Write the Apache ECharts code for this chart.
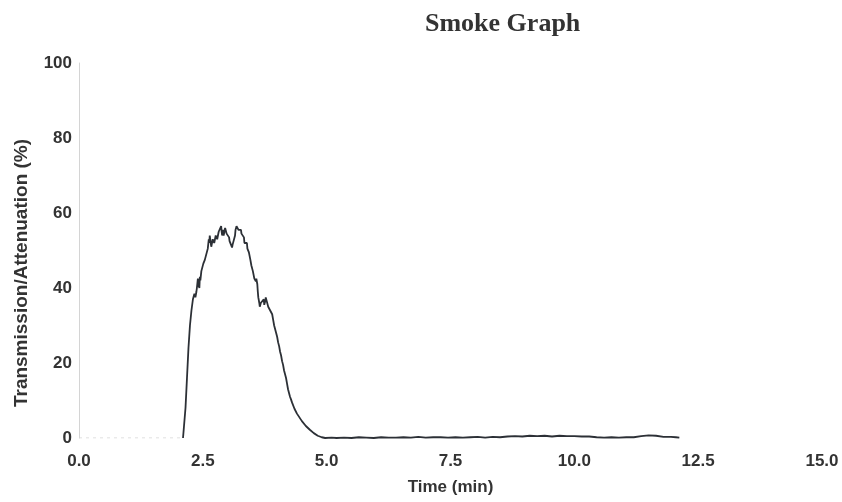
<!DOCTYPE html>
<html>
<head>
<meta charset="utf-8">
<script src="https://cdn.jsdelivr.net/npm/echarts@6/dist/echarts.min.js"></script>
<style>html,body{margin:0;padding:0;background:#fff}#c{width:842px;height:502px}</style>
</head>
<body>
<div id="c"></div>
<script>
const titleText = 'Smoke Graph';
const xName = 'Time (min)';
const yName = 'Transmission/Attenuation (%)';
const xTicks = [0, 2.5, 5, 7.5, 10, 12.5, 15];
const yTicks = [0, 20, 40, 60, 80, 100];

// faint pre-test baseline
const preTime = [0, 0.5, 1.0, 1.5, 2.0, 2.1];
const preValue = [0, 0, 0, 0, 0, 0];

// main smoke trace
const time = [2.10, 2.12, 2.15, 2.18, 2.21, 2.24, 2.27, 2.30, 2.32, 2.33, 2.35, 2.37, 2.38, 2.40, 2.41, 2.43, 2.44, 2.45, 2.47, 2.48,
  2.50, 2.51, 2.53, 2.54, 2.56, 2.57, 2.59, 2.60, 2.62, 2.63, 2.64, 2.66, 2.67, 2.69, 2.70, 2.72, 2.73, 2.75, 2.76, 2.78,
  2.79, 2.81, 2.82, 2.84, 2.85, 2.87, 2.88, 2.89, 2.91, 2.92, 2.94, 2.95, 2.97, 2.98, 3.00, 3.01, 3.03, 3.04, 3.06, 3.07,
  3.09, 3.10, 3.12, 3.13, 3.15, 3.16, 3.18, 3.19, 3.21, 3.22, 3.24, 3.25, 3.27, 3.28, 3.30, 3.31, 3.33, 3.34, 3.36, 3.37,
  3.39, 3.40, 3.42, 3.43, 3.45, 3.46, 3.48, 3.49, 3.51, 3.52, 3.54, 3.55, 3.57, 3.58, 3.60, 3.61, 3.62, 3.64, 3.65, 3.67,
  3.68, 3.70, 3.71, 3.73, 3.74, 3.76, 3.77, 3.79, 3.80, 3.82, 3.83, 3.85, 3.86, 3.88, 3.90, 3.92, 3.94, 3.96, 3.98, 4.00,
  4.02, 4.04, 4.06, 4.08, 4.10, 4.12, 4.14, 4.16, 4.18, 4.20, 4.22, 4.24, 4.26, 4.28, 4.30, 4.35, 4.40, 4.45, 4.50, 4.58,
  4.66, 4.74, 4.82, 4.90, 4.97, 5.1, 5.2, 5.35, 5.5, 5.65, 5.8, 5.95, 6.1, 6.25, 6.4, 6.55, 6.7, 6.85, 7.0, 7.15, 7.3, 7.45,
  7.6, 7.75, 7.9, 8.05, 8.2, 8.35, 8.5, 8.65, 8.8, 8.95, 9.1, 9.25, 9.4, 9.55, 9.7, 9.85, 10.0, 10.15, 10.3, 10.45, 10.6,
  10.75, 10.9, 11.05, 11.2, 11.35, 11.5, 11.65, 11.8, 11.95, 12.05, 12.12];
const value = [0, 0.5, 8, 16, 24, 30, 34, 37, 36.5, 38.5, 37.5, 39, 40, 42.5, 41, 40, 43, 42, 44.5, 45,
  44.5, 46.5, 46, 47.5, 48.5, 49, 48, 50.5, 53, 52, 54, 52, 51, 51.5, 53, 53.5, 52, 52.5, 54, 54.5,
  53, 53.5, 55, 55.5, 54.5, 56.5, 55, 54, 55.5, 54, 54.5, 56, 56, 54.5, 54, 55, 53.5, 52.5, 52, 51.5,
  50.8, 51.5, 52.5, 53, 54, 55.5, 56.5, 56, 56.5, 55.5, 55, 56, 55.5, 54.5, 54, 54.5, 53.5, 52, 52.5, 51.5,
  52, 50.5, 50, 49.5, 49, 47.5, 46, 46.5, 44.5, 44, 42.5, 43, 41.8, 42.5, 41, 39, 37.5, 36, 35, 36,
  36, 35.5, 36.5, 37, 35.5, 36.5, 37.5, 36.5, 36, 35, 35.5, 34.5, 34, 33.5, 33, 31.5, 30, 29, 28, 27,
  25.5, 24.5, 23, 22, 20.5, 19.5, 18, 17, 16, 14.5, 13, 12, 11, 10.3, 9.5, 7.8, 6.5, 5.5, 4.5, 3.2,
  2.2, 1.3, 0.6, 0.2, 0, 0.1, 0, 0.1, 0, 0.2, 0.1, 0, 0.2, 0.1, 0.1, 0.2, 0.1, 0.3, 0.1, 0.2, 0.2, 0.1,
  0.2, 0.1, 0.2, 0.3, 0.1, 0.3, 0.2, 0.4, 0.5, 0.4, 0.6, 0.5, 0.6, 0.4, 0.6, 0.5, 0.5, 0.4, 0.4, 0.2, 0.1,
  0.2, 0.1, 0.2, 0.2, 0.5, 0.7, 0.6, 0.3, 0.3, 0.2, 0.1];

const chart = echarts.init(document.getElementById('c'), null, {renderer: 'canvas'});
const labelFont = {fontFamily: 'Liberation Sans, Arial, sans-serif', fontWeight: 'bold', fontSize: 17, color: '#333'};
chart.setOption({
  backgroundColor: '#fff',
  animation: false,
  title: {
    text: titleText, left: 420, top: 6,
    textStyle: {fontFamily: 'Liberation Serif, Times New Roman, serif', fontWeight: 'bold', fontSize: 26, color: '#333'}
  },
  grid: {left: 79, right: 20, top: 63, bottom: 64, containLabel: false},
  xAxis: {
    type: 'value', min: xTicks[0], max: xTicks[xTicks.length - 1], interval: 2.5,
    name: xName, nameLocation: 'middle', nameGap: 41,
    nameTextStyle: labelFont,
    axisLine: {show: false}, axisTick: {show: false}, splitLine: {show: false},
    axisLabel: Object.assign({margin: 15, showMinLabel: true, showMaxLabel: true, formatter: v => v.toFixed(1)}, labelFont)
  },
  yAxis: {
    type: 'value', min: yTicks[0], max: yTicks[yTicks.length - 1], interval: 20,
    axisLine: {show: true, lineStyle: {color: '#d4d4d4', width: 1}},
    axisTick: {show: false}, splitLine: {show: false},
    axisLabel: Object.assign({margin: 7}, labelFont)
  },
  graphic: [{
    type: 'text', x: 22, y: 273, rotation: Math.PI / 2,
    style: {text: yName, fill: '#333', font: 'bold 19px "Liberation Sans", Arial, sans-serif', align: 'center', verticalAlign: 'middle'}
  }],
  series: [
    {type: 'line', data: preTime.map((t, i) => [t, preValue[i]]), symbol: 'none',
      lineStyle: {color: '#d6d6d6', width: 1.2, type: [3, 4]}},
    {type: 'line', data: time.map((t, i) => [t, value[i]]), symbol: 'none', sampling: null,
      lineStyle: {color: '#2c3036', width: 1.8}}
  ]
});
</script>
</body>
</html>
